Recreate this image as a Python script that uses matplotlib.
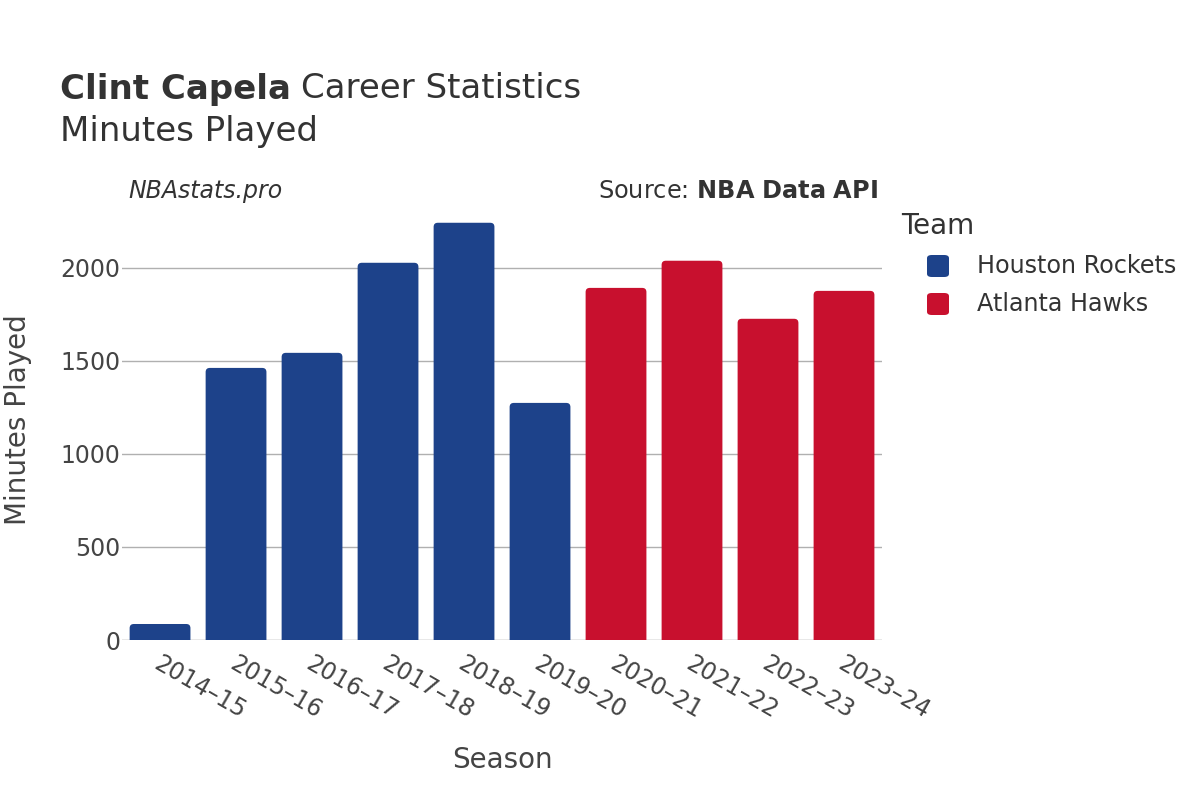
import matplotlib
matplotlib.use('Agg')
import matplotlib.pyplot as plt
from matplotlib.patches import FancyBboxPatch
import numpy as np

# Data
seasons = ['2014–15', '2015–16', '2016–17', '2017–18', '2018–19',
           '2019–20', '2020–21', '2021–22', '2022–23', '2023–24']
minutes = [86, 1462, 1543, 2027, 2242, 1274, 1892, 2038, 1726, 1876]
teams = ['Houston Rockets'] * 6 + ['Atlanta Hawks'] * 4
team_colors = {'Houston Rockets': '#1d428a', 'Atlanta Hawks': '#c8102e'}

plt.rcParams['font.family'] = ['DejaVu Sans']
txt = '#333333'
tick_col = '#444444'

fig = plt.figure(figsize=(12, 8), dpi=100)
ax = fig.add_axes([0.1017, 0.2, 0.6333, 0.549])

x = np.arange(len(seasons))
colors = [team_colors[t] for t in teams]
bars = ax.bar(x, minutes, width=0.8, color=colors, zorder=3)

ax.set_xlim(-0.5, len(seasons) - 0.5)
ax.set_ylim(0, 2360)

# swap plain bars for ones with rounded top corners (bottom hidden below 0)
for b in bars:
    x0, w, h = b.get_x(), b.get_width(), b.get_height()
    b.remove()
    ax.add_patch(FancyBboxPatch((x0, -60), w, h + 60,
                                boxstyle='round,pad=0,rounding_size=0.055',
                                mutation_aspect=400, facecolor=b.get_facecolor(),
                                edgecolor='none', zorder=3))

ax.set_yticks([0, 500, 1000, 1500, 2000])
ax.set_yticklabels(['0', '500', '1000', '1500', '2000'])
ax.grid(axis='y', color='#b0b0b0', linewidth=1, zorder=0)
ax.axhline(0, color='#e8e8e8', linewidth=2, zorder=2)
for s in ax.spines.values():
    s.set_visible(False)
ax.tick_params(axis='both', length=0, labelsize=17, labelcolor=tick_col)
ax.tick_params(axis='y', pad=1)

ax.set_xticks(x)
ax.set_xticklabels([])
for xi, lab in zip(x, seasons):
    ax.annotate(lab, xy=(xi, 0), xycoords=('data', 'axes fraction'),
                xytext=(2, -12), textcoords='offset pixels',
                rotation=-30, rotation_mode='anchor', ha='left', va='top',
                fontsize=17, color=tick_col)

fig.text(18 / 1200, 1 - 420 / 800, 'Minutes Played', fontsize=20, color=tick_col,
         rotation=90, ha='center', va='center')
fig.text(502 / 1200, 1 - 760 / 800, 'Season', fontsize=20, color=tick_col,
         ha='center', va='center')

# Titles
t1 = fig.text(60 / 1200, 1 - 89 / 800, 'Clint Capela', fontsize=24.5, fontweight='bold',
              color=txt, ha='left', va='center')
fig.canvas.draw()
bb = t1.get_window_extent()
fig.text((bb.x1 + 10) / 1200, 1 - 89 / 800, 'Career Statistics', fontsize=24.5,
         color=txt, ha='left', va='center')
fig.text(60 / 1200, 1 - 132 / 800, 'Minutes Played', fontsize=24.5,
         color=txt, ha='left', va='center')

fig.text(128 / 1200, 1 - 191 / 800, 'NBAstats.pro', fontsize=17, style='italic',
         color=txt, ha='left', va='center')
fig.text(878 / 1200, 1 - 191 / 800, r'Source: $\bf{NBA\ Data\ API}$', fontsize=17.3,
         color=txt, ha='right', va='center')

# Legend
fig.text(901 / 1200, 1 - 226 / 800, 'Team', fontsize=20, color=txt,
         ha='left', va='center')
for i, (name, col) in enumerate(team_colors.items()):
    yy = 1 - (266 + 38 * i) / 800
    fig.patches.append(FancyBboxPatch(
        (927 / 1200, yy - 11 / 800), 22 / 1200, 22 / 800,
        boxstyle='round,pad=0,rounding_size=0.004', transform=fig.transFigure,
        facecolor=col, edgecolor='none'))
    fig.text(977 / 1200, yy, name, fontsize=17.2, color=txt,
             ha='left', va='center')

fig.savefig('out.png', dpi=100)
